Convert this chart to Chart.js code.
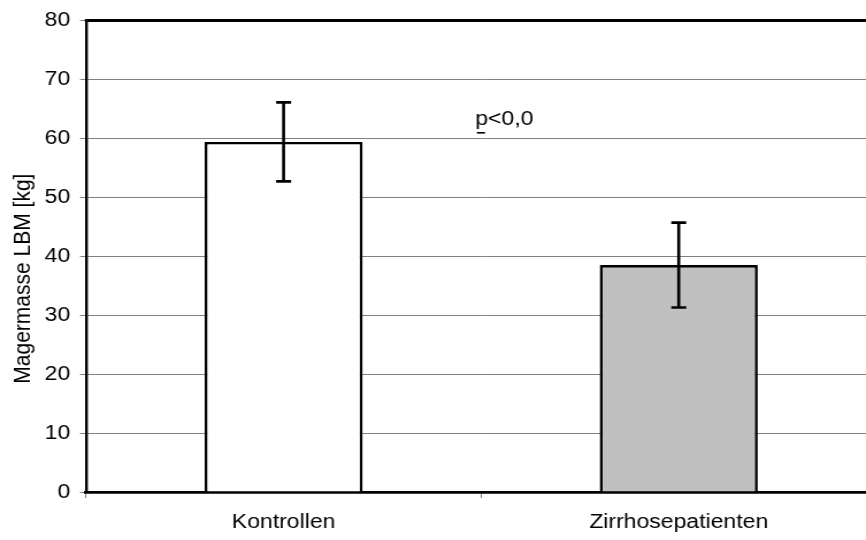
<!DOCTYPE html>
<html>
<head>
<meta charset="utf-8">
<script src="https://cdn.jsdelivr.net/npm/chart.js@4.4.1/dist/chart.umd.min.js"></script>
<style>
  html, body { margin: 0; padding: 0; background: #fff; overflow: hidden; width: 866px; height: 540px; }
  #wrap { width: 762px; height: 540px; transform: scaleX(1.15); transform-origin: 0 0; }
  canvas { display: block; }
</style>
</head>
<body>
<div id="wrap"><canvas id="c" width="762" height="540"></canvas></div>
<script>
// Lean body mass, controls vs. cirrhosis patients (mean ± SD)
const categories = ['Kontrollen', 'Zirrhosepatienten'];
const meanLBM = [59.4, 38.5];
const sdLBM = [6.7, 7.2];
const yTicks = { min: 0, max: 80, step: 10 };
const yTitle = 'Magermasse LBM [kg]';
const pLabel = 'p<0,0';
const pLabelValue = 62.3;

const FAMILY = '"Liberation Sans", Arial, sans-serif';
const FONT = { family: FAMILY, size: 20 };
const TITLE_SIZE = 21;

// Whiskers for the standard deviation, centred on each bar
const errorBars = {
  id: 'errorBars',
  afterDatasetsDraw(chart) {
    const meta = chart.getDatasetMeta(0);
    const y = chart.scales.y;
    const ctx = chart.ctx;
    ctx.save();
    ctx.strokeStyle = '#000';
    ctx.lineWidth = 2.6;
    ctx.lineCap = 'butt';
    meta.data.forEach((bar, i) => {
      const hi = y.getPixelForValue(meanLBM[i] + sdLBM[i]);
      const lo = y.getPixelForValue(meanLBM[i] - sdLBM[i]);
      const cap = 6.5;
      ctx.beginPath();
      ctx.moveTo(bar.x, hi); ctx.lineTo(bar.x, lo);
      ctx.moveTo(bar.x - cap, hi); ctx.lineTo(bar.x + cap, hi);
      ctx.moveTo(bar.x - cap, lo); ctx.lineTo(bar.x + cap, lo);
      ctx.stroke();
    });
    ctx.restore();
  }
};

// Top frame line, rotated axis title and the significance note
const frameAndNote = {
  id: 'frameAndNote',
  afterDraw(chart) {
    const { ctx, chartArea } = chart;
    const x = chart.scales.x, y = chart.scales.y;
    ctx.save();
    ctx.strokeStyle = '#000';
    ctx.lineWidth = 3;
    ctx.beginPath();
    ctx.moveTo(chartArea.left - 1, chartArea.top);
    ctx.lineTo(chartArea.right + 2, chartArea.top);
    ctx.stroke();

    // y axis title, set slightly below the middle of the value range
    ctx.save();
    ctx.translate(20, y.getPixelForValue(36.2));
    ctx.rotate(-Math.PI / 2);
    ctx.font = TITLE_SIZE + 'px ' + FAMILY;
    ctx.fillStyle = '#000';
    ctx.textAlign = 'center';
    ctx.textBaseline = 'middle';
    ctx.fillText(yTitle, 0, 0);
    ctx.restore();

    const tx = x.getPixelForValue(0.5) - 5.2;
    const ty = y.getPixelForValue(pLabelValue);
    ctx.font = FONT.size + 'px ' + FAMILY;
    ctx.fillStyle = '#000';
    ctx.textAlign = 'left';
    ctx.textBaseline = 'alphabetic';
    ctx.fillText(pLabel, tx, ty);
    ctx.lineWidth = 1.6;
    ctx.beginPath();
    ctx.moveTo(tx + 1.5, ty + 8);
    ctx.lineTo(tx + 8.5, ty + 8);
    ctx.stroke();
    ctx.restore();
  }
};

new Chart(document.getElementById('c'), {
  type: 'bar',
  data: {
    labels: categories,
    datasets: [{
      data: meanLBM,
      backgroundColor: ['#ffffff', '#c0c0c0'],
      borderColor: '#000',
      borderWidth: 2.6,
      borderSkipped: 'bottom',
      barPercentage: 0.4,
      categoryPercentage: 1.0
    }]
  },
  options: {
    responsive: false,
    animation: false,
    devicePixelRatio: 1,
    layout: { padding: { top: 19, left: 0, right: 0, bottom: 0 } },
    plugins: { legend: { display: false }, tooltip: { enabled: false } },
    scales: {
      x: {
        offset: true,
        grid: { offset: true, drawOnChartArea: false, color: '#808080', tickLength: 6 },
        border: { color: '#000', width: 2.7 },
        ticks: { color: '#000', font: FONT, padding: 12, maxRotation: 0 },
        afterFit(scale) { scale.height = 48; }
      },
      y: {
        min: yTicks.min,
        max: yTicks.max,
        ticks: { stepSize: yTicks.step, color: '#000', font: FONT, padding: 8.5 },
        grid: { color: '#808080', lineWidth: 1, tickLength: 5.2 },
        border: { color: '#000', width: 2.4 },
        title: { display: false },
        afterFit(scale) { scale.width = 74.8; }
      }
    }
  },
  plugins: [errorBars, frameAndNote]
});
</script>
</body>
</html>
